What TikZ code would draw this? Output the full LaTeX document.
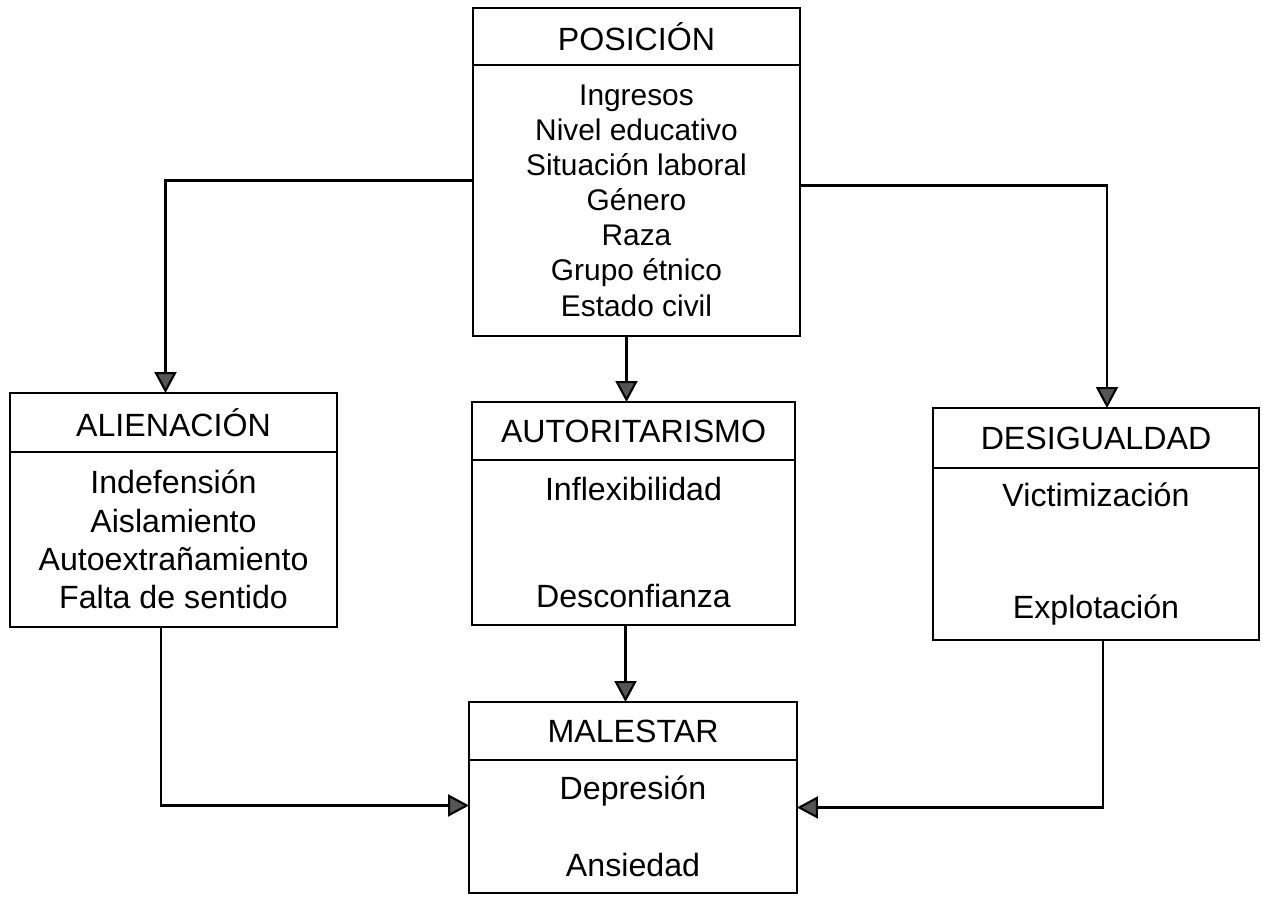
\documentclass[tikz,border=0pt]{standalone}
\usepackage{fontspec}
\setmainfont{Liberation Sans}
\usetikzlibrary{arrows.meta,positioning}
\definecolor{flechagris}{RGB}{85,85,85}

\begin{document}
\begin{tikzpicture}[x=0.02cm,y=-0.02cm,line width=1.2pt,
    cabeza/.style={rectangle,draw,outer sep=0pt,inner sep=0pt,anchor=north,
      font=\fontsize{18.3}{21.7}\selectfont},
    cuerpo/.style={rectangle,draw,outer sep=0pt,inner sep=0pt,align=center,
      font=\fontsize{18.3}{21.7}\selectfont},
    flecha/.style={-{Triangle[length=0.42cm,width=0.44cm,fill=flechagris]}}]
      \useasboundingbox (0,0) rectangle (1268,899);
      % caja de arriba
      \node[cabeza,minimum width=6.54cm,minimum height=1.14cm](pos) at (636.5,8){POSICIÓN};
      \node[cuerpo,minimum width=6.54cm,minimum height=5.42cm,below=0pt of pos,
        font=\fontsize{17}{20}\selectfont](posb){Ingresos\\Nivel educativo\\Situación laboral\\Género\\Raza\\Grupo étnico\\Estado civil};
      % tres cajas del medio
      \node[cabeza,minimum width=6.54cm,minimum height=1.18cm](ali) at (173.5,393){ALIENACIÓN};
      \node[cuerpo,minimum width=6.54cm,minimum height=3.5cm,below=0pt of ali](alib){Indefensión\\Aislamiento\\Autoextrañamiento\\Falta de sentido};
      \node[cabeza,minimum width=6.46cm,minimum height=1.16cm](aut) at (633.5,402){AUTORITARISMO};
      \node[cuerpo,minimum width=6.46cm,minimum height=3.3cm,below=0pt of aut](autb){Inflexibilidad\\[39pt]Desconfianza};
      \node[cabeza,minimum width=6.52cm,minimum height=1.2cm](des) at (1096,408){DESIGUALDAD};
      \node[cuerpo,minimum width=6.52cm,minimum height=3.44cm,below=0pt of des](desb){Victimización\\[42pt]Explotación};
      % caja de abajo
      \node[cabeza,minimum width=6.56cm,minimum height=1.16cm](mal) at (633,702){MALESTAR};
      \node[cuerpo,minimum width=6.56cm,minimum height=2.66cm,below=0pt of mal](malb){Depresión\\[22pt]Ansiedad};
      % flechas
      \draw[flecha] ([yshift=0.4cm]posb.west) -| ([xshift=-0.16cm]ali.north);
      \draw[flecha] ([xshift=-0.2cm]posb.south) -- ([xshift=-0.2cm]posb.south |- aut.north);
      \draw[flecha] ([yshift=0.3cm]posb.east) -| ([xshift=0.22cm]des.north);
      \draw[flecha] ([xshift=-0.16cm]autb.south) -- ([xshift=-0.16cm]autb.south |- mal.north);
      \draw[flecha] ([xshift=-0.25cm]alib.south) |- ([yshift=0.42cm]malb.west);
      \draw[flecha] ([xshift=0.14cm]desb.south) |- ([yshift=0.38cm]malb.east);
    \end{tikzpicture}
\end{document}
